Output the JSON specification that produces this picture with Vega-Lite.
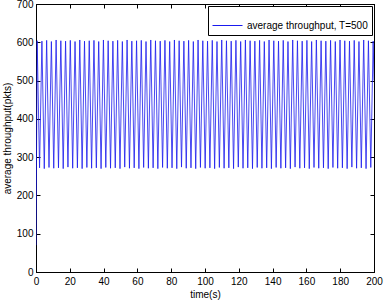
{
  "$schema": "https://vega.github.io/schema/vega-lite/v6.json",
  "width": 338,
  "height": 268,
  "autosize": "none",
  "padding": {"left": 36, "top": 4, "right": 11, "bottom": 28},
  "background": "white",
  "config": {
    "view": {"stroke": "black", "strokeWidth": 1},
    "font": "Liberation Sans",
    "axis": {"grid": false, "domainColor": "black", "tickColor": "black", "labelColor": "black", "titleColor": "black", "labelFontSize": 10, "titleFontSize": 10, "titleFontWeight": "normal", "labelFont": "Liberation Sans", "titleFont": "Liberation Sans"}
  },
  "data": {"values": [
    {"t":0,"v":70},{"t":0.7,"v":604},{"t":2.1,"v":272},{"t":3.5,"v":603},{"t":4.9,"v":270},{"t":6.3,"v":605},{"t":7.7,"v":273},{"t":9.1,"v":602},{"t":10.5,"v":271},{"t":11.9,"v":606},{"t":13.3,"v":272},{"t":14.7,"v":604},{"t":16.1,"v":270},{"t":17.5,"v":603},{"t":18.9,"v":274},{"t":20.3,"v":605},{"t":21.7,"v":271},{"t":23.1,"v":602},{"t":24.5,"v":272},{"t":25.9,"v":606},{"t":27.3,"v":270},{"t":28.7,"v":603},{"t":30.1,"v":273},{"t":31.5,"v":604},{"t":32.9,"v":271},{"t":34.3,"v":605},{"t":35.7,"v":272},{"t":37.1,"v":602},{"t":38.5,"v":270},{"t":39.9,"v":606},{"t":41.3,"v":273},{"t":42.7,"v":604},{"t":44.1,"v":271},{"t":45.5,"v":603},{"t":46.9,"v":272},{"t":48.3,"v":605},{"t":49.7,"v":270},{"t":51.1,"v":602},{"t":52.5,"v":274},{"t":53.9,"v":606},{"t":55.3,"v":271},{"t":56.7,"v":603},{"t":58.1,"v":272},{"t":59.5,"v":604},{"t":60.9,"v":270},{"t":62.3,"v":605},{"t":63.7,"v":273},{"t":65.1,"v":602},{"t":66.5,"v":271},{"t":67.9,"v":606},{"t":69.3,"v":272},{"t":70.7,"v":604},{"t":72.1,"v":270},{"t":73.5,"v":603},{"t":74.9,"v":273},{"t":76.3,"v":605},{"t":77.7,"v":271},{"t":79.1,"v":602},{"t":80.5,"v":272},{"t":81.9,"v":606},{"t":83.3,"v":270},{"t":84.7,"v":604},{"t":86.1,"v":274},{"t":87.5,"v":603},{"t":88.9,"v":271},{"t":90.3,"v":605},{"t":91.7,"v":272},{"t":93.1,"v":602},{"t":94.5,"v":270},{"t":95.9,"v":606},{"t":97.3,"v":273},{"t":98.7,"v":604},{"t":100.1,"v":271},{"t":101.5,"v":603},{"t":102.9,"v":272},{"t":104.3,"v":605},{"t":105.7,"v":270},{"t":107.1,"v":602},{"t":108.5,"v":273},{"t":109.9,"v":606},{"t":111.3,"v":271},{"t":112.7,"v":604},{"t":114.1,"v":272},{"t":115.5,"v":603},{"t":116.9,"v":270},{"t":118.3,"v":605},{"t":119.7,"v":274},{"t":121.1,"v":602},{"t":122.5,"v":271},{"t":123.9,"v":606},{"t":125.3,"v":272},{"t":126.7,"v":604},{"t":128.1,"v":270},{"t":129.5,"v":603},{"t":130.9,"v":273},{"t":132.3,"v":605},{"t":133.7,"v":271},{"t":135.1,"v":602},{"t":136.5,"v":272},{"t":137.9,"v":606},{"t":139.3,"v":270},{"t":140.7,"v":604},{"t":142.1,"v":273},{"t":143.5,"v":603},{"t":144.9,"v":271},{"t":146.3,"v":605},{"t":147.7,"v":272},{"t":149.1,"v":602},{"t":150.5,"v":270},{"t":151.9,"v":606},{"t":153.3,"v":274},{"t":154.7,"v":604},{"t":156.1,"v":271},{"t":157.5,"v":603},{"t":158.9,"v":272},{"t":160.3,"v":605},{"t":161.7,"v":270},{"t":163.1,"v":602},{"t":164.5,"v":273},{"t":165.9,"v":606},{"t":167.3,"v":271},{"t":168.7,"v":604},{"t":170.1,"v":272},{"t":171.5,"v":603},{"t":172.9,"v":270},{"t":174.3,"v":605},{"t":175.7,"v":273},{"t":177.1,"v":602},{"t":178.5,"v":271},{"t":179.9,"v":606},{"t":181.3,"v":272},{"t":182.7,"v":604},{"t":184.1,"v":270},{"t":185.5,"v":603},{"t":186.9,"v":274},{"t":188.3,"v":605},{"t":189.7,"v":271},{"t":191.1,"v":602},{"t":192.5,"v":272},{"t":193.9,"v":606},{"t":195.3,"v":270},{"t":196.7,"v":604},{"t":198.1,"v":273},{"t":199.5,"v":603},{"t":200,"v":500}
  ]},
  "layer": [
    {
      "mark": {"type": "line", "strokeWidth": 0.8, "clip": true},
      "encoding": {
        "x": {"field": "t", "type": "quantitative", "scale": {"domain": [0, 200], "nice": false, "zero": false},
              "axis": {"orient": "bottom", "title": "time(s)", "values": [0,20,40,60,80,100,120,140,160,180,200], "tickSize": -4, "labelPadding": 8, "titlePadding": 3, "labelFlush": false}},
        "y": {"field": "v", "type": "quantitative", "scale": {"domain": [0, 700], "nice": false},
              "axis": {"orient": "left", "title": "average throughput(pkts)", "values": [0,100,200,300,400,500,600,700], "tickSize": -4, "labelPadding": 7, "titlePadding": 4}},
        "color": {"datum": "average throughput, T=500", "type": "nominal",
                  "scale": {"range": ["#1a1aee"]},
                  "legend": {"orient": "top-right", "offset": 2, "title": null, "strokeColor": "black", "fillColor": "white", "padding": 4, "symbolType": "stroke", "symbolSize": 900, "symbolStrokeWidth": 1, "labelFontSize": 10, "labelColor": "black", "labelFont": "Liberation Sans", "labelLimit": 200}}
      }
    },
    {
      "mark": {"type": "line", "opacity": 0},
      "encoding": {
        "x": {"field": "t", "type": "quantitative", "axis": {"orient": "top", "title": null, "labels": false, "values": [0,20,40,60,80,100,120,140,160,180,200], "tickSize": -4}},
        "y": {"field": "v", "type": "quantitative", "axis": {"orient": "right", "title": null, "labels": false, "values": [0,100,200,300,400,500,600,700], "tickSize": -4}}
      }
    }
  ],
  "resolve": {"axis": {"x": "independent", "y": "independent"}}
}
